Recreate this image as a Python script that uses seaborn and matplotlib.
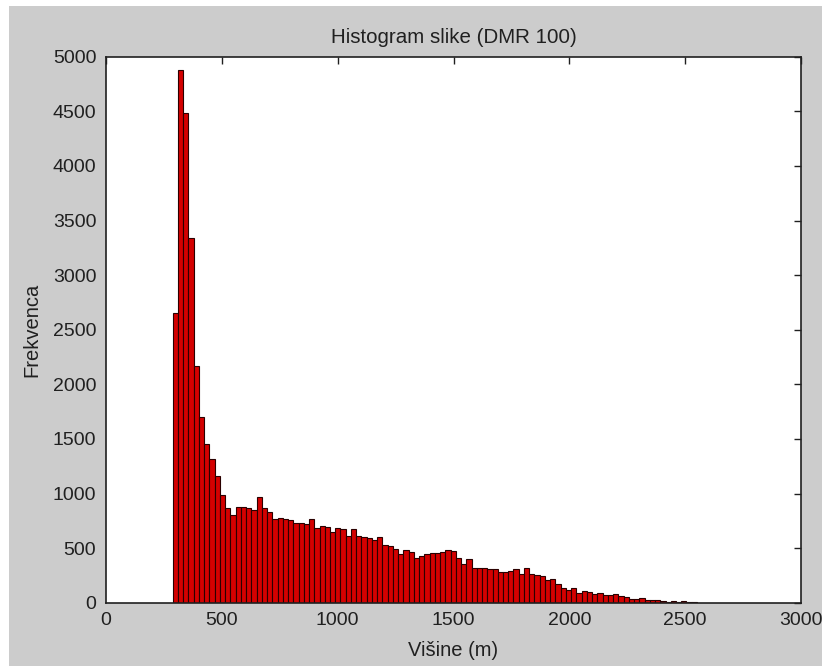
import numpy as np
import pandas as pd
import matplotlib
matplotlib.use("Agg")
import matplotlib.pyplot as plt
from matplotlib.patches import Rectangle
import seaborn as sns

# Elevation histogram of the DEM (100 bins between the lowest and highest cell)
elev_min = 288.0
elev_max = 2551.0
n_bins = 100
frequency = [
    2650, 4878, 4481, 3337, 2167, 1703, 1453, 1316, 1160, 986,
    864, 803, 879, 879, 864, 849, 971, 864, 828, 766,
    779, 766, 757, 733, 733, 718, 763, 681, 702, 696,
    650, 688, 673, 614, 673, 614, 605, 596, 574, 602,
    528, 522, 492, 446, 483, 464, 409, 431, 446, 458,
    458, 467, 483, 476, 406, 354, 397, 321, 321, 315,
    306, 306, 281, 284, 293, 309, 262, 322, 266, 254,
    244, 208, 220, 171, 132, 116, 135, 86, 104, 95,
    77, 92, 66, 70, 78, 57, 50, 38, 32, 43,
    28, 25, 22, 12, 10, 11, 10, 11, 10, 9,
]
x_ticks = [0, 500, 1000, 1500, 2000, 2500, 3000]
y_ticks = [0, 500, 1000, 1500, 2000, 2500, 3000, 3500, 4000, 4500, 5000]
title = "Histogram slike (DMR 100)"
x_label = "Višine (m)"
y_label = "Frekvenca"

edges = np.linspace(elev_min, elev_max, n_bins + 1)
centers = (edges[:-1] + edges[1:]) / 2
df = pd.DataFrame({"visina": centers, "frekvenca": frequency})

sns.set_theme(style="white")
plt.rcParams["font.family"] = ["Liberation Sans", "DejaVu Sans"]
plt.rcParams["font.size"] = 14

fig = plt.figure(figsize=(8.22, 6.66), dpi=100, facecolor="white")
# grey window background
fig.patches.append(Rectangle((9 / 822, 0), 1, 660 / 666, transform=fig.transFigure,
                             facecolor="#cccccc", edgecolor="none", zorder=-10))

ax = fig.add_axes([106 / 822, (666 - 602.7) / 666, 695 / 822, 546 / 666])
ax.set_facecolor("white")

sns.histplot(data=df, x="visina", weights="frekvenca", bins=n_bins,
             binrange=(elev_min, elev_max), ax=ax,
             color="#d40000", alpha=1.0, edgecolor="#2a0000", linewidth=0.8)

ax.set_xlim(0, 3000)
ax.set_ylim(0, 5000)
ax.set_xticks(x_ticks)
ax.set_yticks(y_ticks)
ax.tick_params(direction="in", length=5, width=1, colors="#202020",
               top=True, right=True, labelsize=14, pad=7, labelcolor="#202020")
for s in ax.spines.values():
    s.set_color("#202020")
    s.set_linewidth(1.2)
    s.set_visible(True)

ax.set_title(title, fontsize=14.8, color="#202020", pad=10)
ax.set_xlabel(x_label, fontsize=14.5, color="#202020", labelpad=8)
ax.set_ylabel(y_label, fontsize=14.5, color="#202020", labelpad=8)

fig.savefig("out.png", dpi=100, facecolor=fig.get_facecolor())
